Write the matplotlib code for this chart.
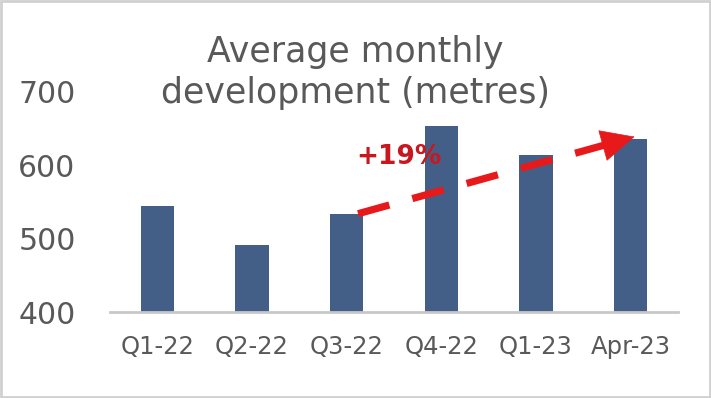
import matplotlib.pyplot as plt
from matplotlib.patches import FancyArrowPatch, Rectangle

categories = ["Q1-22", "Q2-22", "Q3-22", "Q4-22", "Q1-23", "Apr-23"]
values = [544, 491, 533, 654, 614, 636]
yticks = [400, 500, 600, 700]
growth_label = "+19%"

fig = plt.figure(figsize=(7.11, 3.98), dpi=100)
ax = fig.add_axes([0.1547, 0.216, 0.799, 0.553])

x = range(len(categories))
ax.bar(x, values, width=0.35, color="#445f87", zorder=2)

ax.set_xlim(-0.5, len(categories) - 0.5)
ax.set_ylim(400, 700)
ax.set_yticks(yticks)
ax.set_xticks(list(x))
ax.set_xticklabels(categories, fontsize=17.5, color="#595959")
ax.set_yticklabels([str(v) for v in yticks], fontsize=21.5, color="#595959")
ax.tick_params(length=0)
ax.tick_params(axis="x", pad=16.5)
ax.tick_params(axis="y", pad=66)
for s in ["top", "right", "left"]:
    ax.spines[s].set_visible(False)
ax.spines["bottom"].set_color("#c8c8c8")
ax.spines["bottom"].set_linewidth(2)
for lab in ax.get_yticklabels():
    lab.set_horizontalalignment("left")

# trend arrow from Q3-22 to Apr-23: dashed shaft + solid head
x0, y0 = 2.12, values[2] + 1
x1, y1 = 5.04, values[5] + 3
f = 0.92
xb, yb = x0 + f * (x1 - x0), y0 + f * (y1 - y0)
ax.plot([x0, xb], [y0, yb], color="#e8191b", lw=5.2, linestyle=(0, (4.5, 3.3)),
        solid_capstyle="butt", dash_capstyle="butt", zorder=3, clip_on=False)
x2, y2 = x0 + 0.9 * (x1 - x0), y0 + 0.9 * (y1 - y0)
head = FancyArrowPatch((x2, y2), (x1, y1),
                       arrowstyle="-|>,head_length=23,head_width=11",
                       mutation_scale=1, color="#e8191b", lw=0.5,
                       zorder=3, clip_on=False, shrinkA=0, shrinkB=0)
ax.add_patch(head)
ax.text(2.55, 611, growth_label, fontsize=19, fontweight="bold",
        color="#c8171e", ha="center", va="center", zorder=4)

fig.text(0.5, 0.818, "Average monthly\ndevelopment (metres)", ha="center",
         va="center", fontsize=25, color="#595959", linespacing=1.27)

# outer frame
fig.patches.append(Rectangle((0.002, 0.003), 0.996, 0.994, transform=fig.transFigure,
                             fill=False, edgecolor="#d0d0d0", lw=2))

fig.savefig("out.png", dpi=100)
